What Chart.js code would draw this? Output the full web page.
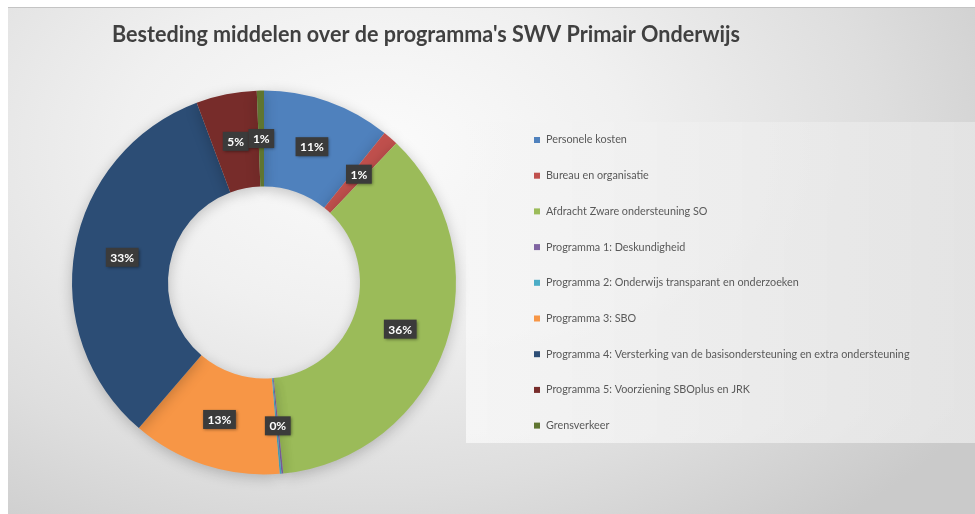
<!DOCTYPE html>
<html>
<head>
<meta charset="utf-8">
<script src="https://cdn.jsdelivr.net/npm/chart.js@4.4.1/dist/chart.umd.min.js"></script>
<style>
  html, body { margin: 0; padding: 0; background: #ffffff; }
  #wrap { position: relative; width: 975px; height: 514px; overflow: hidden; }
  #bg {
    position: absolute; left: 8px; top: 7px; right: 0; bottom: 0;
    border-top: 1px solid #c4c4c4;
    background: radial-gradient(ellipse 75% 95% at 38% 28%, #fbfbfb 0%, #f0f0f0 35%, #dedede 70%, #cacaca 100%);
  }
  #c { position: absolute; left: 0; top: 0; }
</style>
</head>
<body>
<div id="wrap">
  <div id="bg"></div>
  <canvas id="c" width="975" height="514"></canvas>
</div>
<script>
const title = "Besteding middelen over de programma's SWV Primair Onderwijs";

const categories = [
  "Personele kosten",
  "Bureau en organisatie",
  "Afdracht Zware ondersteuning SO",
  "Programma 1: Deskundigheid",
  "Programma 2: Onderwijs transparant en onderzoeken",
  "Programma 3: SBO",
  "Programma 4: Versterking van de basisondersteuning en extra ondersteuning",
  "Programma 5: Voorziening SBOplus en JRK",
  "Grensverkeer"
];

// share of total, in percent
const shares = [10.8, 1.3, 36.3, 0.15, 0.15, 12.6, 33.0, 5.1, 0.6];

const sliceColors = [
  "#4f81bd", "#c0504d", "#9bbb59", "#8064a2", "#4bacc6",
  "#f79646", "#2c4d75", "#772c2a", "#5f7530"
];

const total = shares.reduce((a, b) => a + b, 0);

// soft shadow under the ring
const ringShadow = {
  id: "ringShadow",
  beforeDatasetsDraw(chart) {
    const ctx = chart.ctx;
    ctx.save();
    ctx.shadowColor = "rgba(0,0,0,0.22)";
    ctx.shadowBlur = 14;
    ctx.shadowOffsetY = 3;
  },
  afterDatasetsDraw(chart) {
    chart.ctx.restore();
  }
};

// title + legend panel
const frame = {
  id: "frame",
  beforeDraw(chart) {
    const ctx = chart.ctx;
    ctx.save();
    // legend panel
    const g = ctx.createLinearGradient(466, 0, 975, 0);
    g.addColorStop(0, "rgba(246,246,246,0.9)");
    g.addColorStop(1, "rgba(228,228,228,0.95)");
    ctx.fillStyle = g;
    ctx.fillRect(466, 122, 509, 321);

    // title
    ctx.fillStyle = "#404040";
    ctx.font = "bold 22px Lato, 'Open Sans', sans-serif";
    ctx.textBaseline = "middle";
    const w = ctx.measureText(title).width;
    const sx = 628 / w;
    ctx.translate(112, 35);
    ctx.scale(sx, 1);
    ctx.fillText(title, 0, 0);
    ctx.restore();
  },
  afterDraw(chart) {
    const ctx = chart.ctx;
    const labels = chart.data.labels;
    const cols = chart.data.datasets[0].backgroundColor;
    ctx.save();
    ctx.font = "10.8px Lato, 'Open Sans', sans-serif";
    ctx.textBaseline = "middle";
    const x0 = 534, y0 = 140, step = 35.7;
    labels.forEach((lab, i) => {
      const y = y0 + i * step;
      ctx.fillStyle = cols[i];
      ctx.fillRect(x0, y - 3, 6, 6);
      ctx.fillStyle = "#595959";
      ctx.fillText(lab, x0 + 12, y);
    });
    ctx.restore();
  }
};

// percentage labels in dark boxes
const pctLabels = {
  id: "pctLabels",
  afterDatasetsDraw(chart) {
    const ctx = chart.ctx;
    const meta = chart.getDatasetMeta(0);
    const data = chart.data.datasets[0].data;
    const placed = [];
    ctx.save();
    ctx.font = "bold 12px Lato, 'Open Sans', sans-serif";
    ctx.textAlign = "center";
    ctx.textBaseline = "middle";
    meta.data.forEach((arc, i) => {
      const txt = Math.round(data[i] / total * 100) + "%";
      const p = arc.tooltipPosition();
      const bw = ctx.measureText(txt).width + 9, bh = 19;
      const box = { x: p.x - bw / 2, y: p.y - bh / 2, w: bw, h: bh };
      const clash = placed.some(b => {
        const ox = Math.min(b.x + b.w, box.x + box.w) - Math.max(b.x, box.x);
        const oy = Math.min(b.y + b.h, box.y + box.h) - Math.max(b.y, box.y);
        return ox > bw * 0.5 && oy > bh * 0.5;
      });
      if (clash) return;
      placed.push(box);
      ctx.shadowColor = "rgba(0,0,0,0.45)";
      ctx.shadowBlur = 3;
      ctx.shadowOffsetX = 1;
      ctx.shadowOffsetY = 1;
      ctx.fillStyle = "#3b3b3b";
      ctx.fillRect(box.x, box.y, box.w, box.h);
      ctx.shadowColor = "transparent";
      ctx.fillStyle = "#ffffff";
      ctx.fillText(txt, p.x, p.y + 0.5);
    });
    ctx.restore();
  }
};

new Chart(document.getElementById("c"), {
  type: "doughnut",
  data: {
    labels: categories,
    datasets: [{
      data: shares,
      backgroundColor: sliceColors,
      borderWidth: 0
    }]
  },
  options: {
    responsive: false,
    animation: false,
    cutout: "50%",
    layout: { padding: { left: 72, right: 519, top: 90, bottom: 39 } },
    plugins: {
      legend: { display: false },
      tooltip: { enabled: false },
      title: { display: false }
    }
  },
  plugins: [frame, ringShadow, pctLabels]
});
</script>
</body>
</html>
